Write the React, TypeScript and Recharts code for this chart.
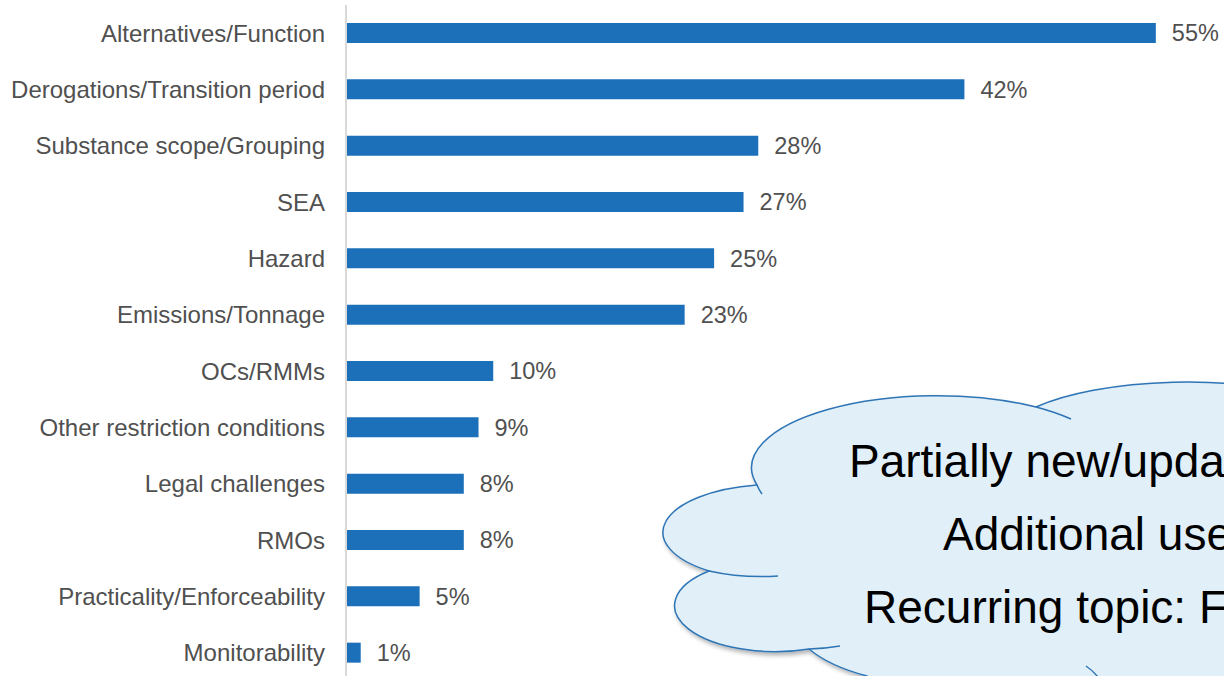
import React from "react";
import { BarChart, Bar, XAxis, YAxis, LabelList, Customized } from "recharts";

const categories = [
  "Alternatives/Function",
  "Derogations/Transition period",
  "Substance scope/Grouping",
  "SEA",
  "Hazard",
  "Emissions/Tonnage",
  "OCs/RMMs",
  "Other restriction conditions",
  "Legal challenges",
  "RMOs",
  "Practicality/Enforceability",
  "Monitorability",
];
const shares = [55, 42, 28, 27, 25, 23, 10, 9, 8, 8, 5, 1];

const cloudLines = [
  "Partially new/updated information",
  "Additional uses",
  "Recurring topic: Function",
];

const data = categories.map((name, i) => ({ name, value: shares[i] }));

const FONT = "'Liberation Sans', Arial, sans-serif";
const BAR = "#1b70b9";
const LABEL = "#505050";

// the callout cloud in the lower right, partly off the page
function Cloud() {
  const stroke = "#2e75b6";
  return (
    <g>
      <defs>
        <filter id="cloudShadow" x="-10%" y="-10%" width="130%" height="130%">
          <feDropShadow dx="2" dy="3" stdDeviation="2" floodColor="#000" floodOpacity="0.3" />
        </filter>
      </defs>
      <path
        d="M 757 485 A 185 72 0 0 1 1036 407 A 190 63 0 0 1 1320 400 L 1320 720 L 900 720 L 867 676 A 150 70 0 0 1 809 649 A 101 46 0 0 1 709 571 A 113 48 0 0 1 757 485 Z"
        fill="#e1eff9"
        stroke={stroke}
        strokeWidth={1.5}
        filter="url(#cloudShadow)"
      />
      <g fill="none" stroke={stroke} strokeWidth={1.5}>
        <path d="M 1036 407 A 185 72 0 0 1 1071 419" />
        <path d="M 757 485 A 185 72 0 0 0 762 494" />
        <path d="M 709 571 A 113 48 0 0 0 778 576" />
        <path d="M 809 649 A 101 46 0 0 0 840 646" />
        <path d="M 1086 666 Q 1092 670 1098 677" />
      </g>
      <g fontFamily={FONT} fontSize={46} fill="#000">
        <text x={849} y={477}>{cloudLines[0]}</text>
        <text x={943} y={550}>{cloudLines[1]}</text>
        <text x={864} y={623}>{cloudLines[2]}</text>
      </g>
    </g>
  );
}

export default function App() {
  return (
    <div style={{ position: "fixed", left: 0, top: 0, width: 1224, height: 676, overflow: "hidden", background: "#fff" }}>
      <BarChart
        width={1224}
        height={690}
        data={data}
        layout="vertical"
        margin={{ top: 5, right: 24, bottom: 9, left: 0 }}
      >
        <XAxis type="number" hide domain={[0, 58]} />
        <YAxis
          type="category"
          dataKey="name"
          width={346}
          tickLine={false}
          tickSize={0}
          tickMargin={21}
          axisLine={{ stroke: "#d9d9d9", strokeWidth: 2 }}
          tick={{ fontSize: 24, fill: LABEL, fontFamily: FONT }}
          interval={0}
        />
        <Bar dataKey="value" fill={BAR} barSize={20} isAnimationActive={false}>
          <LabelList
            dataKey="value"
            position="right"
            offset={16}
            formatter={(v: number) => `${v}%`}
            style={{ fontSize: 23.5, fill: LABEL, fontFamily: FONT }}
          />
        </Bar>
        <Customized component={Cloud} />
      </BarChart>
    </div>
  );
}
